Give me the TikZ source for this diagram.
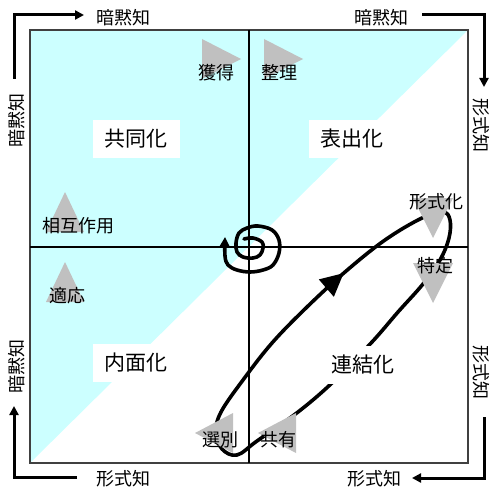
\documentclass[tikz,border=0pt]{standalone}
\usepackage{fontspec}
\newfontfamily\jp{Noto Sans CJK JP}
\usetikzlibrary{arrows.meta,decorations.markings}
\definecolor{bgcyan}{HTML}{CCFFFF}
\definecolor{trigray}{HTML}{C0C0C0}
\definecolor{framegray}{HTML}{404040}
\begin{document}
\begin{tikzpicture}[x=1pt,y=-1pt,
  small/.style={font=\jp\fontsize{18}{18}\selectfont, inner sep=0pt},
  quad/.style={font=\jp\fontsize{21}{21}\selectfont, fill=white, inner sep=0pt, minimum width=87pt, minimum height=38pt},
  gtri/.style={fill=trigray},
  cornerarrow/.style={line width=3pt, -{Triangle[length=9pt,width=9pt]}},
  flow/.style={line width=3.6pt, line cap=round, line join=round},
]
\useasboundingbox (0,0) rectangle (490,487);
% background
\fill[bgcyan] (30,30) -- (468,30) -- (30,463) -- cycle;
\draw[framegray, line width=1.2pt] (30,30) rectangle (468,463);
\draw[line width=1.2pt] (249,30) -- (249,463) (30,247) -- (468,247);
% spiral
\draw[flow, -{Triangle[length=10pt,width=10pt]}] plot[smooth, tension=0.6] coordinates {(244,239) (253,238) (262,242) (263,248) (260,255) (253,258) (243,257) (237,252) (236,243) (239,233) (247,228) (258,226) (272,230) (279,240) (279,253) (273,265) (263,270) (250,272) (237,270) (228,265) (225,256) (225,237)};
% loop
\draw[flow, postaction={decorate}, decoration={markings, mark=at position 207pt with {\arrow{Triangle[length=23pt,width=22pt]}}}] plot[smooth cycle, tension=0.6] coordinates {(222,449) (216,432) (221,412) (243,380) (272,343) (307,307) (345,272) (385,240) (422,218) (443,212) (450,220) (449,238) (440,260) (423,284) (398,312) (372,342) (333,382) (298,412) (257,441) (237,455)};
% gray triangles
\fill[gtri] (202,39) -- (202,79) -- (241,59) -- cycle;
\fill[gtri] (264,39) -- (264,79) -- (303,59) -- cycle;
\fill[gtri] (65,192) -- (46,232) -- (84,232) -- cycle;
\fill[gtri] (65,262) -- (46,302) -- (84,302) -- cycle;
\fill[gtri] (413,198) -- (453,198) -- (433,238) -- cycle;
\fill[gtri] (413,263) -- (453,263) -- (433,303) -- cycle;
\fill[gtri] (195,433) -- (233,413) -- (233,453) -- cycle;
\fill[gtri] (258,433) -- (296,413) -- (296,453) -- cycle;
% small labels
\node[small] (kakutoku) at (216,73) {獲得};
\node[small] (seiri) at (279,72.5) {整理};
\node[small] (sogo) at (78,226) {相互作用};
\node[small] (tekio) at (67,295.5) {適応};
\node[small] (keishikika) at (436,202) {形式化};
\node[small] (tokutei) at (435,266) {特定};
\node[small] (senbetsu) at (220,440) {選別};
\node[small] (kyoyu) at (278.5,440) {共有};
% quadrant labels
\node[quad] (kyodo) at (136,139) {共同化};
\node[quad] (hyoshutsu) at (352,139) {表出化};
\node[quad] (naimen) at (136,363) {内面化};
\node[quad] (renketsu) at (363,365) {連結化};
% side labels
\node[small] (tl) at (123,17.5) {暗黙知};
\node[small] (tr) at (381,17.5) {暗黙知};
\node[small, rotate=90] (lt) at (16.5,120) {暗黙知};
\node[small, rotate=90] (lb) at (16.5,366) {暗黙知};
\node[small, rotate=-90] (rt) at (481,126) {形式知};
\node[small, rotate=-90] (rb) at (481,372) {形式知};
\node[small] (bl) at (123,478.5) {形式知};
\node[small] (br) at (374,478.5) {形式知};
% corner arrows
\coordinate (a1s) at (14,79); \coordinate (a1c) at (14,15); \coordinate (a1e) at (84,15);
\coordinate (a2s) at (422,15); \coordinate (a2c) at (484,15); \coordinate (a2e) at (484,87);
\coordinate (a3s) at (484,417); \coordinate (a3c) at (484,478); \coordinate (a3e) at (412,478);
\coordinate (a4s) at (77,477); \coordinate (a4c) at (14,477); \coordinate (a4e) at (14,406);
\draw[cornerarrow] (a1s) -- (a1c) -- (a1e);
\draw[cornerarrow] (a2s) -- (a2c) -- (a2e);
\draw[cornerarrow] (a3s) -- (a3c) -- (a3e);
\draw[cornerarrow] (a4s) -- (a4c) -- (a4e);
\end{tikzpicture}
\end{document}
